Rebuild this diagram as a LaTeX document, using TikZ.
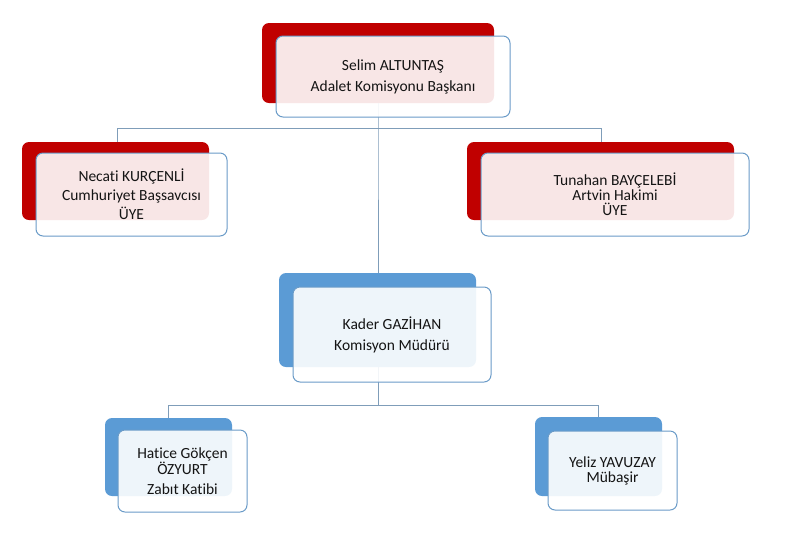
\documentclass[tikz,border=0pt]{standalone}
\usepackage{fontspec}
\setmainfont{Carlito}[Ligatures={NoCommon,NoContextual}]
\definecolor{redback}{RGB}{192,0,0}
\definecolor{blueback}{RGB}{91,155,213}
\definecolor{frontline}{RGB}{106,155,200}
\definecolor{conn}{RGB}{127,157,185}
\definecolor{txt}{RGB}{20,20,20}
\tikzset{
  backbox/.style={rectangle, rounded corners=7pt, draw=none, inner sep=0pt},
  redbox/.style={backbox, fill=redback},
  bluebox/.style={backbox, fill=blueback},
  frontbox/.style={rectangle, rounded corners=7pt, draw=frontline, line width=1pt,
     fill=white, fill opacity=0.9, text opacity=1, inner sep=0pt, align=center,
     text=txt},
  conline/.style={draw=conn, line width=1pt},
}
\begin{document}
\begin{tikzpicture}[x=1pt,y=-1pt]
\useasboundingbox (0,0) rectangle (800,539);
\coordinate (j1) at (378,128);
\coordinate (j1l) at (117,128);
\coordinate (j1r) at (601,128);
\coordinate (j2) at (378,405);
\coordinate (j2l) at (168,405);
\coordinate (j2r) at (598,405);
% back boxes
\node[redbox, minimum width=232pt, minimum height=80pt] (topb) at (378,63) {};
\node[redbox, minimum width=187pt, minimum height=78pt] (leftb) at (115.5,181) {};
\node[redbox, minimum width=267pt, minimum height=78pt] (rightb) at (600.5,181) {};
\node[bluebox, minimum width=197pt, minimum height=94pt] (midb) at (377.5,320) {};
\node[bluebox, minimum width=127pt, minimum height=78pt] (blb) at (168.5,457) {};
\node[bluebox, minimum width=127pt, minimum height=79pt] (brb) at (598.5,456.5) {};
% connectors
\draw[conline] (topb.south -| j1) -- (j1) -- (midb.north -| j1);
\draw[conline] (j1l) -- (j1r);
\draw[conline] (j1l) -- (leftb.north -| j1l);
\draw[conline] (j1r) -- (rightb.north -| j1r);
\draw[conline] (midb.south -| j2) -- (j2);
\draw[conline] (j2l) -- (j2r);
\draw[conline] (j2l) -- (blb.north -| j2l);
\draw[conline] (j2r) -- (brb.north -| j2r);
% front boxes
\node[frontbox, minimum width=234pt, minimum height=81pt,
  font=\fontsize{15.5}{21}\selectfont] (topf) at (393,76.5)
  {Selim ALTUNTAŞ\\Adalet Komisyonu Başkanı};
\node[frontbox, minimum width=191pt, minimum height=83pt,
  font=\fontsize{15.5}{19}\selectfont] (leftf) at (131.5,194.5)
  {Necati KURÇENLİ\\Cumhuriyet Başsavcısı\\ÜYE};
\node[frontbox, minimum width=268pt, minimum height=83pt,
  font=\fontsize{15.5}{15}\selectfont] (rightf) at (615,194.5)
  {Tunahan BAYÇELEBİ\\Artvin Hakimi\\ÜYE};
\node[frontbox, minimum width=198pt, minimum height=95pt,
  font=\fontsize{15.5}{21}\selectfont] (midf) at (392,334.5)
  {Kader GAZİHAN\\Komisyon Müdürü};
\node[frontbox, minimum width=129pt, minimum height=82pt,
  font=\fontsize{15.5}{15}\selectfont] (blf) at (182.5,471)
  {Hatice Gökçen\\ÖZYURT\\[5pt]Zabıt Katibi};
\node[frontbox, minimum width=129pt, minimum height=79pt,
  font=\fontsize{15.5}{15}\selectfont] (brf) at (612.5,470.5)
  {Yeliz YAVUZAY\\Mübaşir};
\end{tikzpicture}
\end{document}
